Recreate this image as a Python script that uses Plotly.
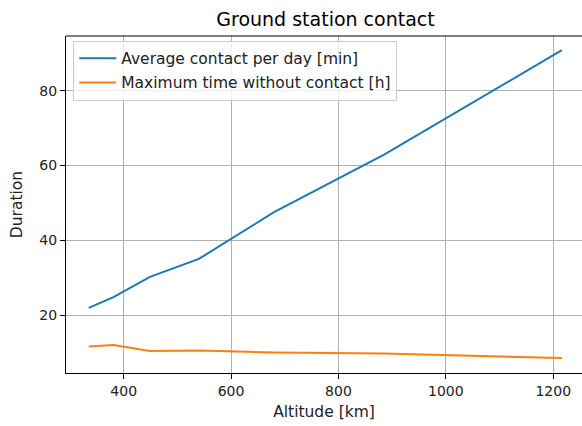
import plotly.graph_objects as go

altitude_km = [335, 381, 449, 540, 680, 885, 1216]
avg_contact_min = [21.9, 24.8, 30.2, 35.0, 47.5, 62.9, 90.8]
max_no_contact_h = [11.6, 12.0, 10.4, 10.5, 10.0, 9.7, 8.5]

series_names = ["Average contact per day [min]", "Maximum time without contact [h]"]
x_ticks = [400, 600, 800, 1000, 1200]
y_ticks = [20, 40, 60, 80]

font_family = "DejaVu Sans"

fig = go.Figure()
fig.add_trace(go.Scatter(x=altitude_km, y=avg_contact_min, mode="lines", legendgroup="a",
                         name=series_names[0], line=dict(color="#1f77b4", width=2)))
fig.add_trace(go.Scatter(x=altitude_km, y=max_no_contact_h, mode="lines", legendgroup="b",
                         name=series_names[1], line=dict(color="#ff7f0e", width=2)))

fig.update_layout(
    width=582, height=426,
    margin=dict(l=66, r=0, t=36, b=53, autoexpand=False),
    paper_bgcolor="white", plot_bgcolor="white",
    font=dict(family=font_family, size=14, color="#222222"),
    title=dict(text="Ground station contact", x=325.5 / 582, xanchor="center",
               y=1 - 19 / 426, yanchor="middle", font=dict(size=19, color="black")),
    showlegend=True,
    legend=dict(x=0.014, y=0.986, xanchor="left", yanchor="top",
                bgcolor="rgba(255,255,255,0.8)", bordercolor="#cccccc", borderwidth=1,
                font=dict(size=15.5, color="#222222"), traceorder="grouped", tracegroupgap=1,
                itemwidth=37),
)
fig.update_xaxes(
    range=[292.6, 1253.5], tickvals=x_ticks, ticks="outside", ticklen=5, tickwidth=1.1,
    tickcolor="black", showgrid=True, gridcolor="#b0b0b0", gridwidth=1.1,
    showline=True, linecolor="black", linewidth=1.1, zeroline=False, automargin=False,
    tickfont=dict(size=14),
    title=dict(text="Altitude [km]", standoff=8, font=dict(size=15.5)),
)
fig.update_yaxes(
    range=[4.5, 94.6], tickvals=y_ticks, ticks="outside", ticklen=5, tickwidth=1.1,
    tickcolor="black", showgrid=True, gridcolor="#b0b0b0", gridwidth=1.1,
    showline=True, linecolor="black", linewidth=1.1, zeroline=False, automargin=False,
    tickfont=dict(size=14),
    title=dict(text="Duration", standoff=12, font=dict(size=15.5)),
)
fig.add_shape(type="line", xref="paper", yref="paper", x0=0, x1=1, y0=1, y1=1,
              line=dict(color="black", width=1.1))

fig.write_html("out.html", config={"displayModeBar": False},
               post_script="document.body.style.margin='0';")
